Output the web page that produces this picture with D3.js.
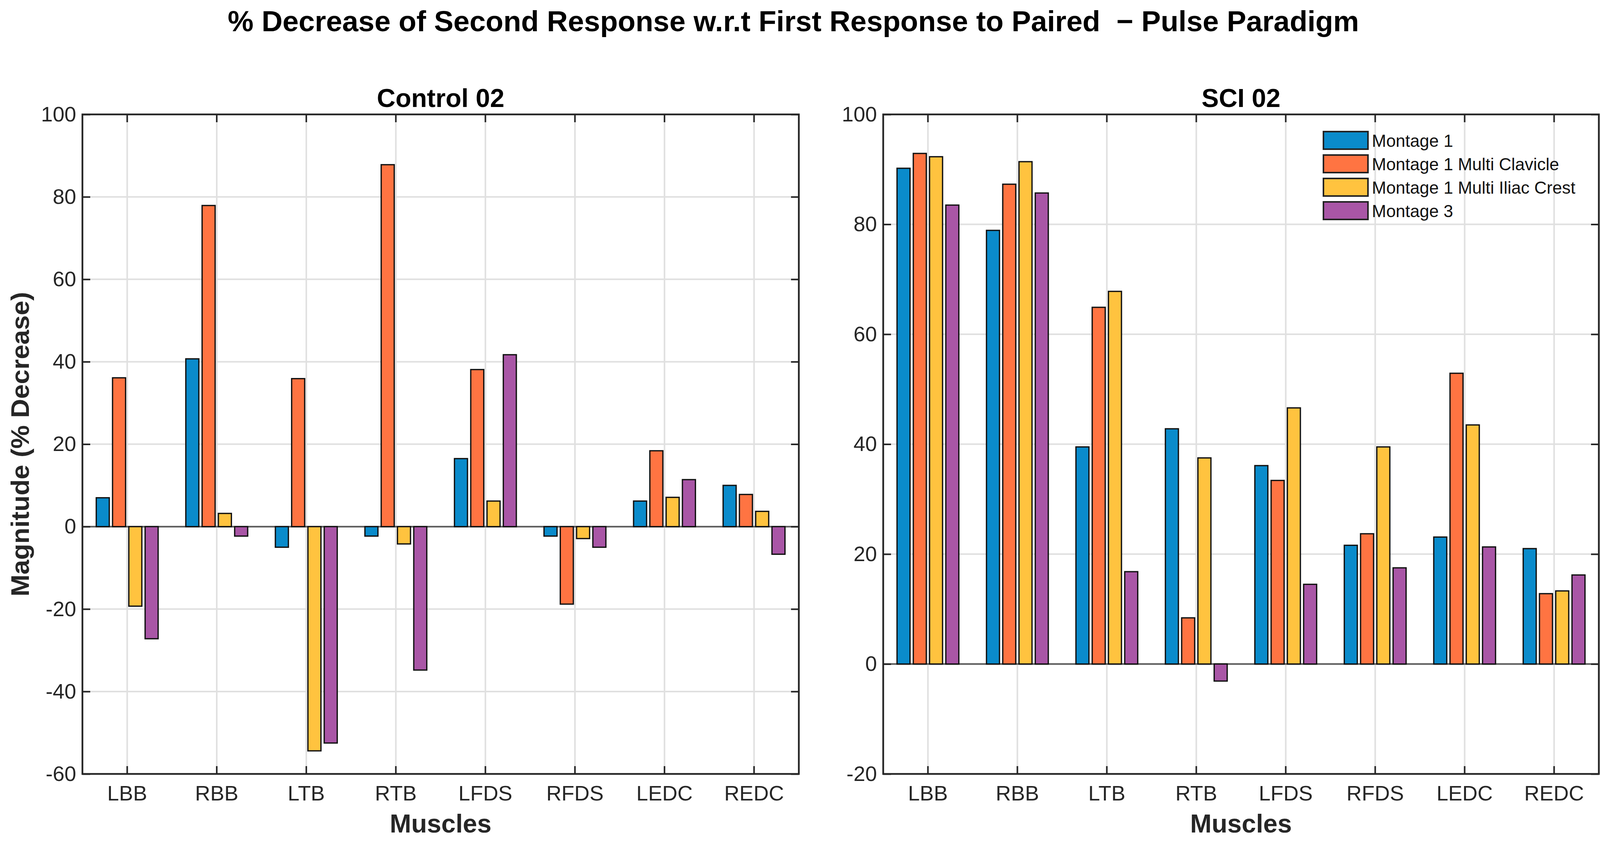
<!DOCTYPE html>
<html>
<head>
<meta charset="utf-8">
<script src="https://cdn.jsdelivr.net/npm/d3@7"></script>
<style>
  body { margin: 0; background: #fff; }
  text { font-family: Arial, "Liberation Sans", Helvetica, sans-serif; }
</style>
</head>
<body>
<div id="chart"></div>
<script>
// categories + series names
const muscles = ["LBB", "RBB", "LTB", "RTB", "LFDS", "RFDS", "LEDC", "REDC"];
const seriesNames = ["Montage 1", "Montage 1 Multi Clavicle", "Montage 1 Multi Iliac Crest", "Montage 3"];
const seriesColors = ["#0a8bcb", "#ff7442", "#ffc33f", "#a956a6"];

// Control 02 values
const ctrlMontage1 = [7.0, 40.7, -5.0, -2.3, 16.5, -2.3, 6.2, 10.0];
const ctrlClavicle = [36.1, 77.9, 35.9, 87.8, 38.1, -18.8, 18.4, 7.8];
const ctrlIliac = [-19.3, 3.2, -54.4, -4.2, 6.2, -2.9, 7.1, 3.7];
const ctrlMontage3 = [-27.2, -2.3, -52.5, -34.8, 41.7, -5.0, 11.4, -6.7];

// SCI 02 values
const sciMontage1 = [90.2, 78.9, 39.5, 42.8, 36.1, 21.6, 23.1, 21.0];
const sciClavicle = [92.9, 87.3, 64.9, 8.4, 33.4, 23.7, 52.9, 12.8];
const sciIliac = [92.3, 91.4, 67.8, 37.5, 46.6, 39.5, 43.5, 13.3];
const sciMontage3 = [83.5, 85.7, 16.8, -3.1, 14.5, 17.5, 21.3, 16.2];

// y ticks
const ctrlTicks = [-60, -40, -20, 0, 20, 40, 60, 80, 100];
const sciTicks = [-20, 0, 20, 40, 60, 80, 100];

const W = 4117, H = 2164;
const axisColor = "#262626";

const svg = d3.select("#chart")
    .append("svg")
    .attr("width", W)
    .attr("height", H);

// main title
svg.append("text")
    .attr("x", 2031)
    .attr("y", 80)
    .attr("text-anchor", "middle")
    .attr("font-size", 74)
    .attr("font-weight", "bold")
    .attr("textLength", 2896)
    .attr("lengthAdjust", "spacingAndGlyphs")
    .style("white-space", "pre")
    .text("% Decrease of Second Response w.r.t First Response to Paired  \u2212 Pulse Paradigm");

const drawPanel = (opts) => {
  const { left, right, top, bottom, yDomain, yTicks, series, title, showYLabel, showLegend } = opts;

  const g = svg.append("g");

  const x = d3.scaleBand()
      .domain(muscles)
      .range([left, right])
      .padding(0);

  // MATLAB grouped bar width: 4/(4+1.5) of the category spacing
  const groupW = x.step() * 4 / 5.5;
  const xInner = d3.scaleBand()
      .domain(d3.range(series.length))
      .range([-groupW / 2, groupW / 2])
      .paddingInner(0.2)
      .paddingOuter(0.1);

  const y = d3.scaleLinear()
      .domain(yDomain)
      .range([bottom, top]);

  // grid
  g.append("g")
      .selectAll("line.hgrid")
      .data(yTicks)
      .join("line")
      .attr("x1", left).attr("x2", right)
      .attr("y1", d => y(d)).attr("y2", d => y(d))
      .attr("stroke", "#e0e0e0")
      .attr("stroke-width", 4);

  g.append("g")
      .selectAll("line.vgrid")
      .data(muscles)
      .join("line")
      .attr("x1", d => x(d) + x.bandwidth() / 2)
      .attr("x2", d => x(d) + x.bandwidth() / 2)
      .attr("y1", top).attr("y2", bottom)
      .attr("stroke", "#e0e0e0")
      .attr("stroke-width", 4);

  // zero baseline
  g.append("line")
      .attr("x1", left).attr("x2", right)
      .attr("y1", y(0)).attr("y2", y(0))
      .attr("stroke", "#5a5a5a")
      .attr("stroke-width", 4);

  // bars
  series.forEach((vals, si) => {
    g.append("g")
        .attr("fill", seriesColors[si])
        .attr("stroke", "#111")
        .attr("stroke-width", 3.3)
        .selectAll("rect")
        .data(vals)
        .join("rect")
        .attr("x", (d, i) => x(muscles[i]) + x.bandwidth() / 2 + xInner(si))
        .attr("width", xInner.bandwidth())
        .attr("y", d => y(Math.max(0, d)))
        .attr("height", d => Math.abs(y(d) - y(0)));
  });

  // axes (ticks pointing inward, like MATLAB)
  const styleAxis = (sel) => {
    sel.select(".domain").remove();
    sel.selectAll(".tick line").attr("stroke", axisColor).attr("stroke-width", 4);
    sel.selectAll(".tick text")
        .attr("fill", axisColor)
        .attr("font-size", 54)
        .attr("font-family", "Arial, 'Liberation Sans', sans-serif");
  };

  g.append("g")
      .attr("transform", `translate(0,${bottom})`)
      .call(d3.axisBottom(x).tickSizeInner(-20).tickSizeOuter(0).tickPadding(30))
      .call(styleAxis);

  g.append("g")
      .attr("transform", `translate(0,${top})`)
      .call(d3.axisTop(x).tickSizeInner(-20).tickSizeOuter(0).tickFormat(""))
      .call(styleAxis);

  g.append("g")
      .attr("transform", `translate(${left},0)`)
      .call(d3.axisLeft(y).tickValues(yTicks).tickFormat(d => String(d))
          .tickSizeInner(-20).tickSizeOuter(0).tickPadding(16))
      .call(styleAxis);

  g.append("g")
      .attr("transform", `translate(${right},0)`)
      .call(d3.axisRight(y).tickValues(yTicks).tickSizeInner(-20).tickSizeOuter(0).tickFormat(""))
      .call(styleAxis);

  // box
  g.append("rect")
      .attr("x", left).attr("y", top)
      .attr("width", right - left).attr("height", bottom - top)
      .attr("fill", "none")
      .attr("stroke", axisColor)
      .attr("stroke-width", 4.5);

  // panel title
  g.append("text")
      .attr("x", (left + right) / 2)
      .attr("y", 274)
      .attr("text-anchor", "middle")
      .attr("font-size", 66)
      .attr("font-weight", "bold")
      .text(title);

  // x label
  g.append("text")
      .attr("x", (left + right) / 2)
      .attr("y", 2132)
      .attr("text-anchor", "middle")
      .attr("font-size", 66)
      .attr("font-weight", "bold")
      .attr("fill", axisColor)
      .text("Muscles");

  if (showYLabel) {
    g.append("text")
        .attr("transform", `translate(74,${(top + bottom) / 2}) rotate(-90)`)
        .attr("text-anchor", "middle")
        .attr("font-size", 64)
        .attr("font-weight", "bold")
        .attr("fill", axisColor)
        .attr("textLength", 780)
        .attr("lengthAdjust", "spacingAndGlyphs")
        .text("Magnitude (% Decrease)");
  }

  if (showLegend) {
    const lg = g.append("g").attr("transform", "translate(3388,337)");
    const rows = lg.selectAll("g")
        .data(seriesNames)
        .join("g")
        .attr("transform", (d, i) => `translate(0,${i * 60})`);
    rows.append("rect")
        .attr("width", 114)
        .attr("height", 45)
        .attr("fill", (d, i) => seriesColors[i])
        .attr("stroke", "#222")
        .attr("stroke-width", 4);
    rows.append("text")
        .attr("x", 124)
        .attr("y", 39)
        .attr("font-size", 44)
        .attr("fill", "#111")
        .text(d => d);
  }
};

drawPanel({
  left: 211, right: 2045, top: 293, bottom: 1982,
  yDomain: [-60, 100], yTicks: ctrlTicks,
  series: [ctrlMontage1, ctrlClavicle, ctrlIliac, ctrlMontage3],
  title: "Control 02", showYLabel: true, showLegend: false
});

drawPanel({
  left: 2261, right: 4093, top: 293, bottom: 1982,
  yDomain: [-20, 100], yTicks: sciTicks,
  series: [sciMontage1, sciClavicle, sciIliac, sciMontage3],
  title: "SCI 02", showYLabel: false, showLegend: true
});
</script>
</body>
</html>
